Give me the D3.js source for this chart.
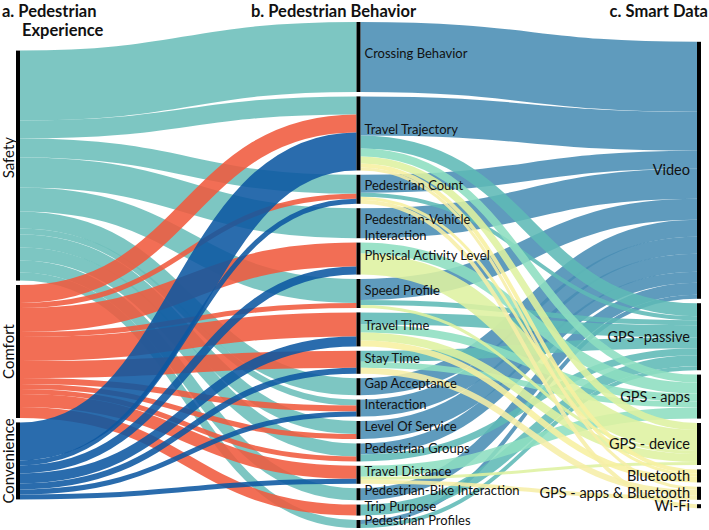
<!DOCTYPE html>
<html>
<head>
<meta charset="utf-8">
<script src="https://cdn.jsdelivr.net/npm/d3@7"></script>
<style>
  body { margin: 0; background: #fff; }
  text { font-family: Lato, "Open Sans", sans-serif; fill: #111; }
</style>
</head>
<body>
<svg id="chart" width="709" height="530"></svg>
<script>
// ---------------- DATA ----------------
const columnTitles = ["a. Pedestrian|Experience", "b. Pedestrian Behavior", "c. Smart Data"];
const experiences = ["Safety", "Comfort", "Convenience"];
const behaviors = ["Crossing Behavior", "Travel Trajectory", "Pedestrian Count",
  "Pedestrian-Vehicle|Interaction", "Physical Activity Level", "Speed Profile", "Travel Time",
  "Stay Time", "Gap Acceptance", "Interaction", "Level Of Service", "Pedestrian Groups",
  "Travel Distance", "Pedestrian-Bike Interaction", "Trip Purpose", "Pedestrian Profiles"];
const dataSources = ["Video", "GPS -passive", "GPS - apps", "GPS - device", "Bluetooth",
  "GPS - apps & Bluetooth", "Wi-Fi"];

// experience -> behavior (one value per behavior, in behavior order)
const safetyToBehavior      = [70, 18, 19, 30, 0, 24, 0, 0, 17, 6, 13, 13, 0, 12, 0, 8];
const comfortToBehavior     = [0, 18, 5, 0, 24, 5, 24, 17, 0, 6, 5, 5, 13, 0, 11, 0];
const convenienceToBehavior = [0, 38, 5, 0, 8, 0, 10, 6, 0, 5, 0, 0, 5, 0, 0, 0];

// behavior -> data source (Video, GPS-passive, GPS-apps, GPS-device, Bluetooth, GPS-apps&BT, Wi-Fi)
const crossingBehaviorTo   = [70, 0, 0, 0, 0, 0, 0];
const travelTrajectoryTo   = [39, 13, 8, 7, 4, 3, 0];
const pedestrianCountTo    = [18, 4, 0, 0, 3, 0, 4];
const pedVehicleTo         = [30, 0, 0, 0, 0, 0, 0];
const physicalActivityTo   = [0, 0, 11, 21, 0, 0, 0];
const speedProfileTo       = [21, 5, 0, 3, 0, 0, 0];
const travelTimeTo         = [0, 12, 8, 8, 6, 0, 0];
const stayTimeTo           = [0, 11, 6, 0, 0, 6, 0];
const gapAcceptanceTo      = [17, 0, 0, 0, 0, 0, 0];
const interactionTo        = [17, 0, 0, 0, 0, 0, 0];
const levelOfServiceTo     = [18, 0, 0, 0, 0, 0, 0];
const pedestrianGroupsTo   = [11, 7, 0, 0, 0, 0, 0];
const travelDistanceTo     = [0, 0, 11, 3, 0, 4, 0];
const pedBikeTo            = [12, 0, 0, 0, 0, 0, 0];
const tripPurposeTo        = [0, 11, 0, 0, 0, 0, 0];
const pedestrianProfilesTo = [4, 4, 0, 0, 0, 0, 0];

const experienceColors = ["#6bbeba", "#f05a3e", "#0d58a2"];
const sourceColors = ["#498db4", "#5fbab6", "#8ddec0", "#def1a1", "#f7f0a1", "#f6eea7", "#f6eea7"];

// ---------------- LAYOUT ----------------
const experienceMatrix = [safetyToBehavior, comfortToBehavior, convenienceToBehavior];
const behaviorMatrix = [crossingBehaviorTo, travelTrajectoryTo, pedestrianCountTo, pedVehicleTo,
  physicalActivityTo, speedProfileTo, travelTimeTo, stayTimeTo, gapAcceptanceTo, interactionTo,
  levelOfServiceTo, pedestrianGroupsTo, travelDistanceTo, pedBikeTo, tripPurposeTo, pedestrianProfilesTo];

const svg = d3.select("#chart");
const nodeWidth = 4, nodePadding = 4.4;
const extentTop = 22, extentBottom = 528;
const colX = d3.scaleLinear().domain([0, 2]).range([16, 697]);

const columns = [experiences, behaviors, dataSources].map((names, c) =>
  names.map((name, i) => ({ name, col: c, index: i, sourceLinks: [], targetLinks: [] })));

const links = [];
experienceMatrix.forEach((row, i) => row.forEach((v, j) => {
  if (v > 0) links.push({ source: columns[0][i], target: columns[1][j], value: v, color: experienceColors[i], group: 0 });
}));
behaviorMatrix.forEach((row, j) => row.forEach((v, k) => {
  if (v > 0) links.push({ source: columns[1][j], target: columns[2][k], value: v, color: sourceColors[k], group: 1, tIndex: k });
}));
links.forEach(l => { l.source.sourceLinks.push(l); l.target.targetLinks.push(l); });

columns.flat().forEach(n => {
  n.value = Math.max(d3.sum(n.sourceLinks, l => l.value), d3.sum(n.targetLinks, l => l.value));
});

const ky = d3.min(columns, col => (extentBottom - extentTop - (col.length - 1) * nodePadding) / d3.sum(col, n => n.value));
const vScale = d3.scaleLinear().domain([0, 1]).range([0, ky]);
const centerY = (extentTop + extentBottom) / 2;

columns.forEach((col, c) => {
  const total = d3.sum(col, n => vScale(n.value)) + (col.length - 1) * nodePadding;
  let y = centerY - total / 2;
  col.forEach(n => {
    n.x0 = colX(c); n.x1 = n.x0 + nodeWidth;
    n.y0 = y; n.y1 = y + vScale(n.value);
    y = n.y1 + nodePadding;
  });
});

links.forEach(l => l.width = vScale(l.value));
columns.flat().forEach(n => {
  n.sourceLinks.sort((a, b) => a.target.y0 - b.target.y0);
  n.targetLinks.sort((a, b) => a.source.y0 - b.source.y0);
  let y0 = n.y0;
  n.sourceLinks.forEach(l => { l.y0 = y0 + l.width / 2; y0 += l.width; });
  let y1 = n.y0;
  n.targetLinks.forEach(l => { l.y1 = y1 + l.width / 2; y1 += l.width; });
});

// ---------------- DRAW ----------------
const linkPath = d3.linkHorizontal()
  .source(d => [d.source.x1, d.y0])
  .target(d => [d.target.x0, d.y1]);

const drawOrder = links.slice().sort((a, b) =>
  a.group - b.group || (a.group === 1 ? a.tIndex - b.tIndex : 0));

svg.append("g").attr("fill", "none")
  .selectAll("path").data(drawOrder).join("path")
  .attr("d", linkPath)
  .attr("stroke", d => d.color)
  .attr("stroke-opacity", 0.88)
  .attr("stroke-width", d => Math.max(1, d.width));

svg.append("g").selectAll("rect").data(columns.flat()).join("rect")
  .attr("x", d => d.x0).attr("y", d => d.y0)
  .attr("width", nodeWidth).attr("height", d => d.y1 - d.y0)
  .attr("fill", "#000");

// left labels (rotated)
svg.append("g").selectAll("text").data(columns[0]).join("text")
  .attr("transform", d => `translate(14,${(d.y0 + d.y1) / 2 - (d.index === 0 ? 8 : 0)}) rotate(-90)`)
  .attr("text-anchor", "middle")
  .attr("font-size", 15)
  .text(d => d.name);

// middle labels
const mid = svg.append("g").selectAll("text").data(columns[1]).join("text")
  .attr("x", d => d.x1 + 4)
  .attr("y", d => (d.y0 + d.y1) / 2 + 1)
  .attr("font-size", 13);
mid.each(function(d) {
  const parts = d.name.split("|");
  const t = d3.select(this);
  parts.forEach((p, i) => t.append("tspan").attr("x", d.x1 + 4).attr("dy", i === 0 ? 0 : 16).text(p));
});

// right labels
svg.append("g").selectAll("text").data(columns[2]).join("text")
  .attr("x", d => d.x0 - 7)
  .attr("y", d => (d.y0 + d.y1) / 2)
  .attr("dy", "0.35em")
  .attr("text-anchor", "end")
  .attr("font-size", 14.5)
  .text(d => d.name);

// column titles
const titleG = svg.append("g").attr("font-weight", "bold").attr("font-size", 16.5);
const t0 = columnTitles[0].split("|");
titleG.append("text").attr("x", 2).attr("y", 17).text(t0[0]);
titleG.append("text").attr("x", 22).attr("y", 36).text(t0[1]);
titleG.append("text").attr("x", 251).attr("y", 17).text(columnTitles[1]);
titleG.append("text").attr("x", 708).attr("y", 17).attr("text-anchor", "end").text(columnTitles[2]);
</script>
</body>
</html>
